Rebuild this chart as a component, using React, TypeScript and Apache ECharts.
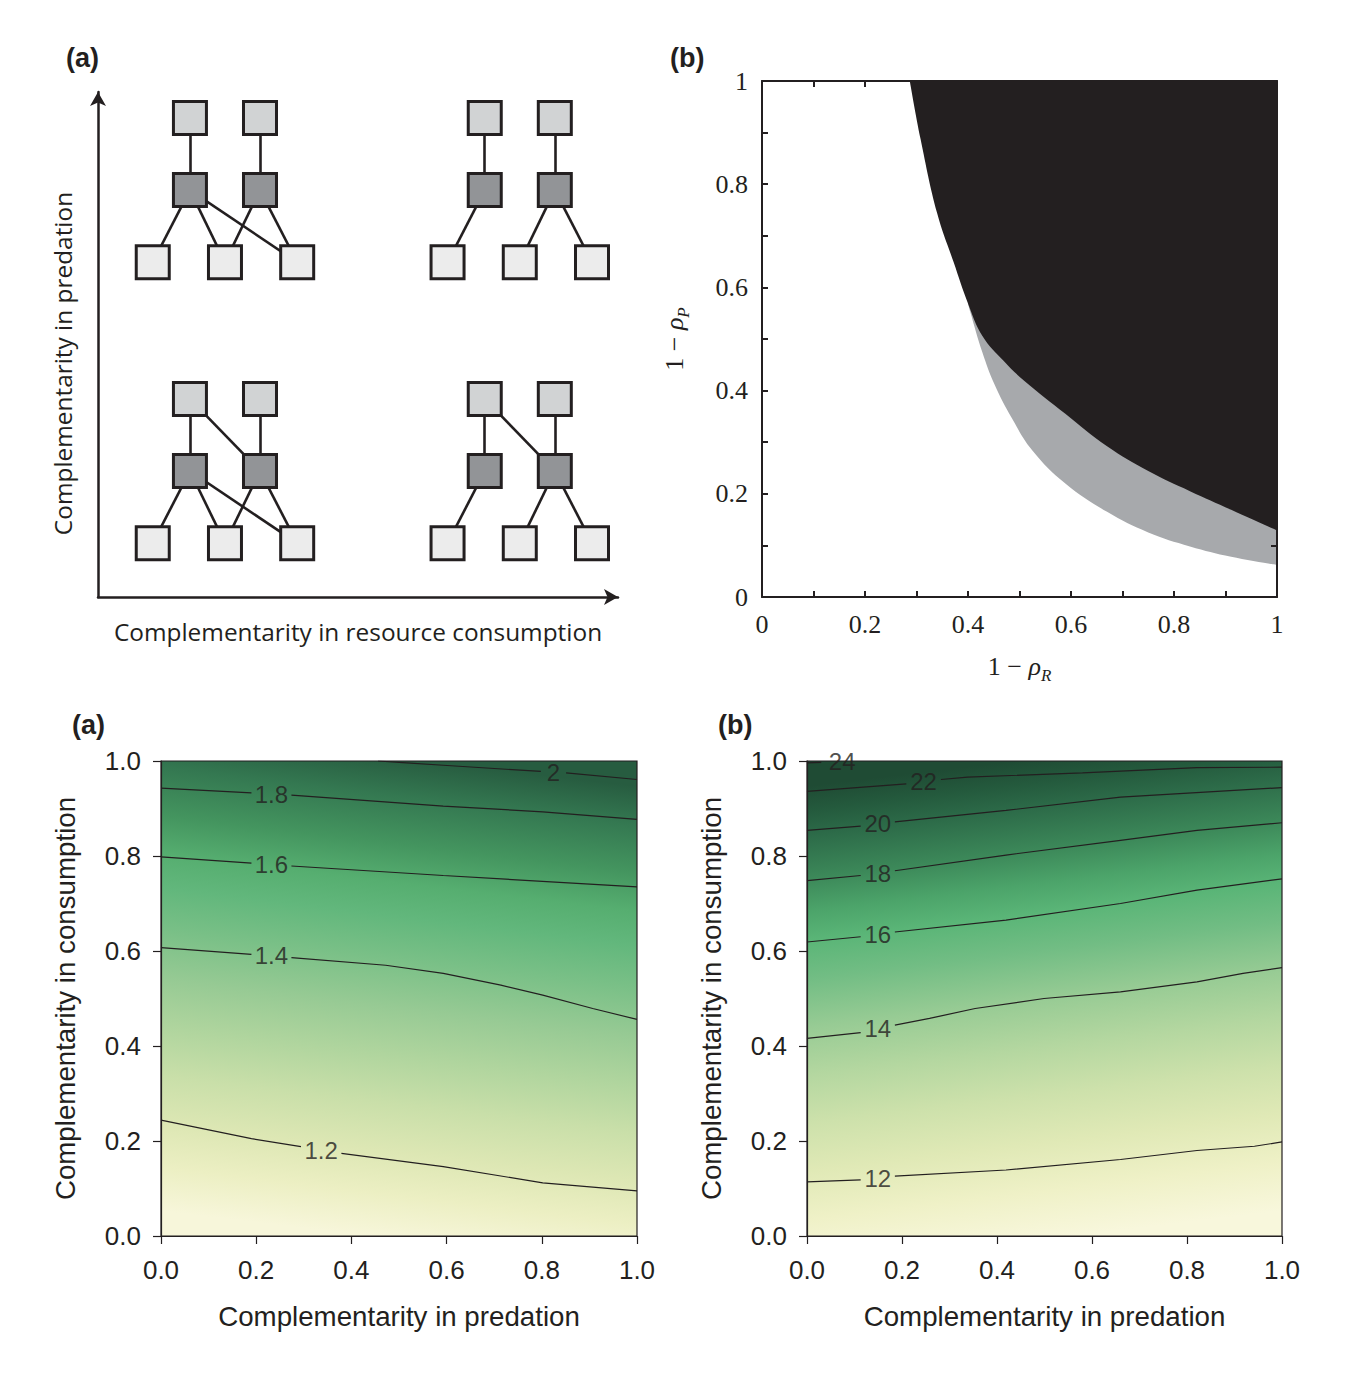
import { useEffect, useRef } from "react";
import * as echarts from "echarts";

const ink = "#231f20";
const sans = "Liberation Sans";
const humanist = "Open Sans";
const serif = "Liberation Serif";

// ---------- Top (a): four food-web sketches ----------
// web centres in sketch units (x: resource complementarity, y: predation complementarity)
const webCenters = [
  [1.758, 5.64],
  [5.84, 5.64],
  [1.758, 1.746],
  [5.84, 1.746],
];
// node offsets from a web centre: predators (P), consumers (C), resources (R)
const nodeKeys = ["P1", "P2", "C1", "C2", "R1", "R2", "R3"];
const nodeDx = [-0.485, 0.485, -0.485, 0.485, -1, 0, 1];
const nodeDy = [1, 1, 0, 0, -1, -1, -1];
const nodeFill: Record<string, string> = { P: "#d1d3d4", C: "#929497", R: "#ececec" };
// feeding links of each web
const webLinks = [
  ["P1-C1", "P2-C2", "C1-R1", "C1-R2", "C1-R3", "C2-R2", "C2-R3"],
  ["P1-C1", "P2-C2", "C1-R1", "C2-R2", "C2-R3"],
  ["P1-C1", "P1-C2", "P2-C2", "C1-R1", "C1-R2", "C1-R3", "C2-R2", "C2-R3"],
  ["P1-C1", "P1-C2", "P2-C2", "C1-R1", "C2-R2", "C2-R3"],
];

// ---------- Top (b): stability regions ----------
const blackEdge = [
  [0.287, 1], [0.308, 0.887], [0.34, 0.744], [0.372, 0.649], [0.4, 0.569],
  [0.428, 0.506], [0.469, 0.458], [0.509, 0.419], [0.589, 0.355], [0.67, 0.292],
  [0.75, 0.244], [0.831, 0.205], [0.911, 0.169], [1, 0.129],
];
const greyEdge = [
  [0.4, 0.569], [0.404, 0.554], [0.428, 0.474], [0.452, 0.411], [0.485, 0.347],
  [0.525, 0.284], [0.589, 0.22], [0.67, 0.165], [0.75, 0.125], [0.831, 0.098],
  [0.911, 0.078], [1, 0.062],
];

// ---------- Bottom (a): contours ----------
const levelsA = [1.2, 1.4, 1.6, 1.8, 2];
const contourA12 = [[0, 0.244], [0.19, 0.205], [0.294, 0.188], [0.379, 0.174], [0.593, 0.146], [0.802, 0.112], [1, 0.095]];
const contourA14 = [[0, 0.607], [0.19, 0.593], [0.274, 0.586], [0.472, 0.57], [0.593, 0.553], [0.714, 0.528], [0.802, 0.507], [0.907, 0.479], [1, 0.456]];
const contourA16 = [[0, 0.798], [0.19, 0.785], [0.274, 0.779], [0.593, 0.759], [1, 0.735]];
const contourA18 = [[0, 0.943], [0.19, 0.933], [0.274, 0.928], [0.593, 0.905], [0.802, 0.893], [1, 0.877]];
const contourA20 = [[0.456, 1], [0.516, 0.996], [0.593, 0.991], [0.798, 0.978], [0.851, 0.975], [1, 0.961]];
const pathsA = [contourA12, contourA14, contourA16, contourA18, contourA20];
const labelGapA = [2, 1, 1, 1, 3];

// ---------- Bottom (b): contours ----------
const levelsB = [12, 14, 16, 18, 20, 22, 24];
const contourB12 = [[0, 0.114], [0.113, 0.118], [0.185, 0.126], [0.419, 0.139], [0.66, 0.161], [0.821, 0.18], [0.942, 0.189], [1, 0.198]];
const contourB14 = [[0, 0.416], [0.113, 0.428], [0.185, 0.444], [0.258, 0.458], [0.354, 0.479], [0.499, 0.5], [0.66, 0.514], [0.821, 0.535], [0.918, 0.553], [1, 0.565]];
const contourB16 = [[0, 0.619], [0.113, 0.63], [0.185, 0.64], [0.419, 0.665], [0.66, 0.7], [0.821, 0.728], [1, 0.752]];
const contourB18 = [[0, 0.748], [0.113, 0.759], [0.185, 0.769], [0.419, 0.802], [0.66, 0.833], [0.821, 0.854], [1, 0.87]];
const contourB20 = [[0, 0.854], [0.113, 0.863], [0.185, 0.872], [0.419, 0.896], [0.66, 0.924], [1, 0.944]];
const contourB22 = [[0, 0.936], [0.209, 0.952], [0.282, 0.961], [0.338, 0.966], [0.58, 0.975], [0.821, 0.986], [1, 0.987]];
const contourB24 = [[0, 0.996], [0.03, 0.997], [0.118, 1]];
const pathsB = [contourB12, contourB14, contourB16, contourB18, contourB20, contourB22, contourB24];
const labelGapB = [1, 1, 1, 1, 1, 1, 1];

// colour ramps of the filled surfaces (top -> bottom)
const rampA: [number, string][] = [
  [0, "#275c40"], [0.08, "#347851"], [0.18, "#44955f"], [0.26, "#56ae70"],
  [0.33, "#62b77c"], [0.42, "#7ac087"], [0.52, "#97ca94"], [0.62, "#b0d59e"],
  [0.72, "#c9dfa9"], [0.82, "#dde7b4"], [0.91, "#ecefc3"], [1, "#f7f6da"],
];
const rampB: [number, string][] = [
  [0, "#1f4b34"], [0.05, "#245a3d"], [0.1, "#2c6a48"], [0.19, "#3c8859"],
  [0.26, "#4ca46a"], [0.32, "#5ab577"], [0.4, "#72bd84"], [0.5, "#97cb94"],
  [0.6, "#b4d7a0"], [0.7, "#cde1ab"], [0.8, "#e0e9b6"], [0.9, "#eff1c7"], [1, "#f8f7dc"],
];

const gradient = (x: number, x2: number, ramp: [number, string][]) =>
  new echarts.graphic.LinearGradient(x, 0, x2, 1, ramp.map(([offset, color]) => ({ offset, color })));

function sketchSeries() {
  const nodes: any[] = [];
  const links: any[] = [];
  webCenters.forEach(([cx, cy], w) => {
    const pos: Record<string, number[]> = {};
    nodeKeys.forEach((k, i) => {
      pos[k] = [cx + nodeDx[i], cy + nodeDy[i]];
      nodes.push({ value: pos[k], itemStyle: { color: nodeFill[k[0]] } });
    });
    webLinks[w].forEach((l) => {
      const [a, b] = l.split("-");
      links.push({ coords: [pos[a], pos[b]] });
    });
  });
  return [
    {
      type: "lines",
      coordinateSystem: "cartesian2d",
      xAxisIndex: 0,
      yAxisIndex: 0,
      data: links,
      lineStyle: { color: ink, width: 2.6, opacity: 1 },
      silent: true,
      z: 2,
    },
    {
      type: "scatter",
      xAxisIndex: 0,
      yAxisIndex: 0,
      data: nodes,
      symbol: "rect",
      symbolSize: 33,
      itemStyle: { borderColor: ink, borderWidth: 3, opacity: 1 },
      silent: true,
      z: 3,
    },
  ];
}

function contourSeries(paths: number[][][], levels: number[], gaps: number[], ax: number) {
  const out: any[] = [];
  const labels: any[] = [];
  paths.forEach((p, i) => {
    const g = gaps[i];
    [p.slice(0, g + 1), p.slice(g + 1)].forEach((part) =>
      out.push({
        type: "line",
        xAxisIndex: ax,
        yAxisIndex: ax,
        data: part,
        showSymbol: false,
        symbol: "none",
        lineStyle: { color: ink, width: 1.2 },
        silent: true,
        z: 3,
      })
    );
    const a = p[g];
    const b = p[g + 1];
    labels.push({ value: [(a[0] + b[0]) / 2, (a[1] + b[1]) / 2], name: String(levels[i]) });
  });
  out.push({
    type: "scatter",
    xAxisIndex: ax,
    yAxisIndex: ax,
    data: labels,
    symbolSize: 1,
    itemStyle: { color: "rgba(0,0,0,0)" },
    label: {
      show: true,
      position: "inside",
      formatter: (p: any) => p.name,
      fontFamily: sans,
      fontSize: 24,
      color: ink,
    },
    silent: true,
    z: 4,
  });
  return out;
}

const fmtB = (v: number) => {
  const k = Math.round(v * 10);
  return k % 2 === 0 ? String(k / 10) : "";
};

const rhoRich = {
  i: { fontFamily: serif, fontStyle: "italic", fontSize: 26, color: ink, lineHeight: 36, verticalAlign: "middle" },
  s: { fontFamily: serif, fontStyle: "italic", fontSize: 17, color: ink, lineHeight: 36, verticalAlign: "bottom" },
};

function boxAxis(grid: number, position: string, labelled: boolean, extra: any = {}) {
  return {
    type: "value",
    gridIndex: grid,
    position,
    min: 0,
    max: 1,
    interval: 0.1,
    z: 10,
    axisLine: { show: true, onZero: false, lineStyle: { color: ink, width: 2 } },
    axisTick: { show: true, inside: true, length: 6, lineStyle: { color: ink, width: 2 } },
    axisLabel: labelled
      ? { show: true, formatter: fmtB, fontFamily: serif, fontSize: 26, color: ink, margin: 14 }
      : { show: false },
    splitLine: { show: false },
    ...extra,
  };
}

function contourAxis(grid: number, name: string, isY: boolean) {
  return {
    type: "value",
    gridIndex: grid,
    min: 0,
    max: 1,
    interval: 0.2,
    axisLine: { show: true, onZero: false, lineStyle: { color: ink, width: 1.2 } },
    axisTick: { show: true, length: 8, lineStyle: { color: ink, width: 1.2 } },
    axisLabel: {
      formatter: (v: number) => v.toFixed(1),
      fontFamily: sans,
      fontSize: 26,
      color: ink,
      margin: isY ? 20 : 21,
    },
    splitLine: { show: false },
    name,
    nameLocation: "middle",
    nameGap: isY ? 82 : 66,
    nameRotate: isY ? 90 : 0,
    nameTextStyle: { fontFamily: sans, fontSize: 27.7, color: ink },
  };
}

function buildOption(): any {
  const tag = (text: string, left: number, top: number) => ({
    text,
    left,
    top,
    padding: 0,
    textStyle: { fontFamily: sans, fontSize: 27, fontWeight: "bold", color: ink },
  });
  const sketchAxis = (name: string, max: number, isY: boolean) => ({
    type: "value",
    gridIndex: 0,
    min: 0,
    max,
    axisLine: {
      show: true,
      onZero: false,
      symbol: ["none", "arrow"],
      symbolSize: [12, 14],
      lineStyle: { color: ink, width: 2.5 },
    },
    axisTick: { show: false },
    axisLabel: { show: false },
    splitLine: { show: false },
    name,
    nameLocation: "middle",
    nameGap: isY ? 24 : 22,
    nameRotate: isY ? 90 : 0,
    nameTextStyle: {
      fontFamily: humanist,
      fontSize: 24.4,
      color: ink,
      padding: isY ? [0, 38, 0, 0] : 0,
    },
  });

  return {
    animation: false,
    backgroundColor: "#ffffff",
    title: [tag("(a)", 66, 44), tag("(b)", 670, 44), tag("(a)", 72, 711), tag("(b)", 718, 711)],
    grid: [
      { left: 98, top: 92, width: 520, height: 505 },
      { left: 762, top: 81, width: 515, height: 516 },
      {
        left: 161, top: 761, width: 476, height: 475, show: true,
        borderColor: ink, borderWidth: 1.2, backgroundColor: gradient(0.56, 0.44, rampA),
      },
      {
        left: 807, top: 761, width: 475, height: 475, show: true,
        borderColor: ink, borderWidth: 1.2, backgroundColor: gradient(0.44, 0.56, rampB),
      },
    ],
    xAxis: [
      sketchAxis("Complementarity in resource consumption", 7.2, false),
      boxAxis(1, "bottom", true, {
        name: "1 − {i|ρ}{s|R}",
        nameLocation: "middle",
        nameGap: 51,
        nameTextStyle: { fontFamily: serif, fontSize: 26, color: ink, lineHeight: 36, rich: rhoRich },
      }),
      boxAxis(1, "top", false),
      contourAxis(2, "Complementarity in predation", false),
      contourAxis(3, "Complementarity in predation", false),
    ],
    yAxis: [
      sketchAxis("Complementarity in predation", 7.0, true),
      boxAxis(1, "left", true, {
        name: "1 − {i|ρ}{s|P}",
        nameLocation: "middle",
        nameGap: 70,
        nameRotate: 90,
        nameTextStyle: { fontFamily: serif, fontSize: 26, color: ink, lineHeight: 36, rich: rhoRich },
      }),
      boxAxis(1, "right", false),
      contourAxis(2, "Complementarity in consumption", true),
      contourAxis(3, "Complementarity in consumption", true),
    ],
    series: [
      ...sketchSeries(),
      {
        type: "line",
        xAxisIndex: 1,
        yAxisIndex: 1,
        data: greyEdge,
        smooth: 0.4,
        showSymbol: false,
        symbol: "none",
        lineStyle: { width: 0 },
        areaStyle: { origin: "end", color: "#a7a9ac", opacity: 1 },
        silent: true,
        z: 2,
      },
      {
        type: "line",
        xAxisIndex: 1,
        yAxisIndex: 1,
        data: blackEdge,
        smooth: 0.4,
        showSymbol: false,
        symbol: "none",
        lineStyle: { width: 0 },
        areaStyle: { origin: "end", color: ink, opacity: 1 },
        silent: true,
        z: 3,
      },
      ...contourSeries(pathsA, levelsA, labelGapA, 3),
      ...contourSeries(pathsB, levelsB, labelGapB, 4),
    ],
  };
}

export default function App() {
  const ref = useRef<HTMLDivElement>(null);
  useEffect(() => {
    const chart = echarts.init(ref.current!, null, { renderer: "svg" });
    chart.setOption(buildOption());
    return () => chart.dispose();
  }, []);
  return (
    <div
      ref={ref}
      style={{ position: "absolute", left: 0, top: 0, width: 1346, height: 1386, background: "#fff" }}
    />
  );
}
